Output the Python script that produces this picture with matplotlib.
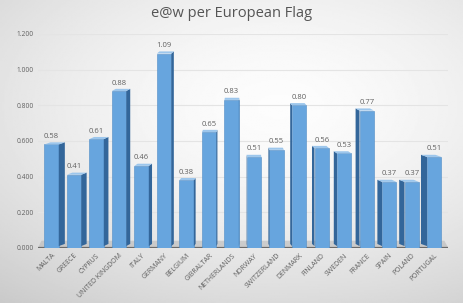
import numpy as np
import matplotlib
matplotlib.use("Agg")
import matplotlib.pyplot as plt
from matplotlib.patches import Polygon

categories = ["MALTA", "GREECE", "CYPRUS", "UNITED KINGDOM", "ITALY", "GERMANY",
              "BELGIUM", "GIBRALTAR", "NETHERLANDS", "NORWAY", "SWITZERLAND",
              "DENMARK", "FINLAND", "SWEDEN", "FRANCE", "SPAIN", "POLAND", "PORTUGAL"]
values = [0.58, 0.41, 0.61, 0.88, 0.46, 1.09, 0.38, 0.65, 0.83, 0.51, 0.55,
          0.80, 0.56, 0.53, 0.77, 0.37, 0.37, 0.51]
yticks = [0.0, 0.2, 0.4, 0.6, 0.8, 1.0, 1.2]

plt.rcParams['font.family'] = ['Open Sans', 'DejaVu Sans']
txt = '#606060'

fig = plt.figure(figsize=(4.64, 3.03), dpi=100)

# background gradient
bg = fig.add_axes([0, 0, 1, 1], zorder=0)
yy, xx = np.mgrid[0:1:200j, 0:1:300j]
d = np.sqrt(((xx - 0.6) / 1.0) ** 2 + ((yy - 0.35) / 0.9) ** 2)
img = 0.99 - 0.22 * d ** 1.6
bg.imshow(img, cmap='gray', vmin=0, vmax=1, extent=[0, 1, 0, 1], aspect='auto', origin='upper')
bg.axis('off')

ax = fig.add_axes([0.082, 0.182, 0.884, 0.706], zorder=1)
ax.patch.set_alpha(0)
n = len(categories)
x = np.arange(n)
ax.set_xlim(-0.6, n - 1 + 0.62)
ax.set_ylim(0, 1.2)

# floor
ax.add_patch(Polygon([[-0.6, 0], [n - 1 + 0.62, 0], [n - 1 + 0.45, 0.04], [-0.45, 0.04]],
                     closed=True, facecolor='#b8b8b8', edgecolor='none', alpha=0.6, zorder=1))
ax.axhline(0, color='#6a6a6a', lw=1.6, zorder=2)

for yv in yticks[1:]:
    ax.axhline(yv, color='#e4e4e4', lw=0.8, zorder=0.5)

fw = 0.64
center = 8.5
for i, v in enumerate(values):
    s = 0.27 * (center - i) / center  # positive -> side on right
    left = i - fw / 2
    right = i + fw / 2
    ax.bar(i, v, width=fw, color='#67a5de', edgecolor='#4f8cc6', lw=0.4, zorder=3)
    dt = 0.012
    if s > 0:
        side = [[right, 0.01], [right + s, 0.01 + dt], [right + s, v + dt], [right, v]]
    else:
        side = [[left, 0.01], [left + s, 0.01 + dt], [left + s, v + dt], [left, v]]
    top = [[left, v], [right, v], [right + s, v + dt], [left + s, v + dt]]
    ax.add_patch(Polygon(side, closed=True, facecolor='#33669a', edgecolor='none', zorder=3))
    ax.add_patch(Polygon(top, closed=True, facecolor='#9cc6ec', edgecolor='none', zorder=3))
    ax.text(i, v + 0.025, f"{v:.2f}", ha='center', va='bottom', fontsize=5.5, color=txt, zorder=4)

ax.set_yticks(yticks)
ax.set_yticklabels([f"{t:.3f}" for t in yticks], fontsize=4.8, color=txt)
ax.set_xticks(x)
ax.set_xticklabels(categories, rotation=45, ha='right', rotation_mode='anchor',
                   fontsize=5, color=txt)
ax.tick_params(length=0, pad=3)
for sp in ax.spines.values():
    sp.set_visible(False)

fig.text(0.5, 0.955, "e@w per European Flag", ha='center', va='center',
         fontsize=10.5, color='#555555')

fig.savefig("out.png", dpi=100)
